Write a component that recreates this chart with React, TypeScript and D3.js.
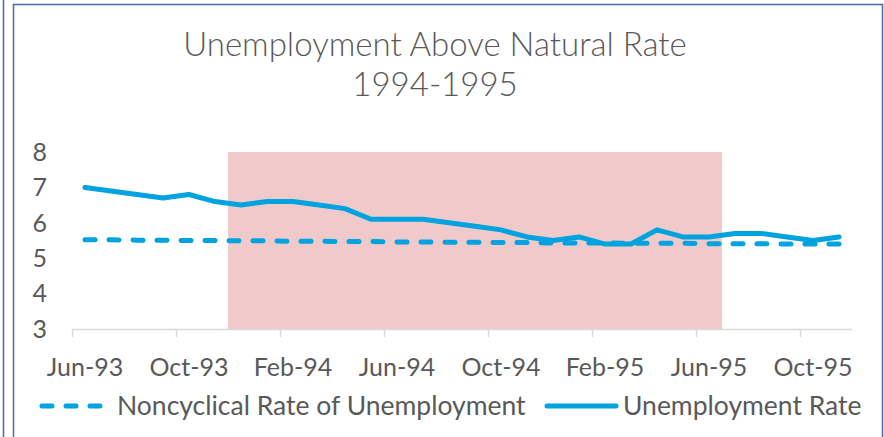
import * as d3 from "d3";
import { useEffect, useRef } from "react";

// months Jun-93 .. Nov-95
const months = [
  "1993-06", "1993-07", "1993-08", "1993-09", "1993-10", "1993-11",
  "1993-12", "1994-01", "1994-02", "1994-03", "1994-04", "1994-05",
  "1994-06", "1994-07", "1994-08", "1994-09", "1994-10", "1994-11",
  "1994-12", "1995-01", "1995-02", "1995-03", "1995-04", "1995-05",
  "1995-06", "1995-07", "1995-08", "1995-09", "1995-10", "1995-11",
];

const unemployment = [
  7.0, 6.9, 6.8, 6.7, 6.8, 6.6, 6.5, 6.6, 6.6, 6.5,
  6.4, 6.1, 6.1, 6.1, 6.0, 5.9, 5.8, 5.6, 5.5, 5.6,
  5.4, 5.4, 5.8, 5.6, 5.6, 5.7, 5.7, 5.6, 5.5, 5.6,
];

const noncyclical = [
  5.52, 5.52, 5.51, 5.51, 5.5, 5.5, 5.49, 5.49, 5.48, 5.48,
  5.47, 5.47, 5.46, 5.46, 5.45, 5.45, 5.44, 5.44, 5.43, 5.43,
  5.43, 5.42, 5.42, 5.42, 5.41, 5.41, 5.41, 5.4, 5.4, 5.4,
];

const tickMonths = ["1993-06", "1993-10", "1994-02", "1994-06", "1994-10", "1995-02", "1995-06", "1995-10"];
const shade = ["1993-12", "1995-06"]; // закрашенный период
const yTicks = [3, 4, 5, 6, 7, 8];

const titleLines = ["Unemployment Above Natural Rate", "1994-1995"];
const seriesNames = ["Noncyclical Rate of Unemployment", "Unemployment Rate"];

const W = 884;
const H = 437;
const BLUE = "#00a2df";
const GREY = "#595959";
const FONT = "Lato, 'Open Sans', sans-serif";

const fmt = d3.timeFormat("%b-%y");
const parse = d3.timeParse("%Y-%m");

export default function App() {
  const ref = useRef<SVGSVGElement>(null);

  useEffect(() => {
    document.body.style.margin = "0";
    const svg = d3.select(ref.current);
    svg.selectAll("*").remove();

    // рамка
    svg.append("rect").attr("width", W).attr("height", H).attr("fill", "#fff");
    svg.append("line").attr("x1", 3.5).attr("x2", 3.5).attr("y1", 0).attr("y2", H)
      .attr("stroke", "#4a6aa8").attr("stroke-width", 1.5);
    svg.append("path").attr("d", `M13.5,${H} V4.5 H882.5 V${H}`)
      .attr("fill", "none").attr("stroke", "#4a6aa8").attr("stroke-width", 1.5);

    const x = d3.scaleBand().domain(months).range([72, 852]).paddingInner(0).paddingOuter(0);
    const cx = (m: string) => (x(m) ?? 0) + x.bandwidth() / 2;
    const y = d3.scaleLinear().domain([3, 8]).range([329, 152]);

    // заголовок
    svg.append("g").selectAll("text").data(titleLines).join("text")
      .attr("x", 435).attr("y", (_, i) => 56 + i * 40)
      .attr("text-anchor", "middle").attr("fill", GREY)
      .style("font-family", FONT).style("font-size", "33px").style("font-weight", 300)
      .text((d) => d);

    // закрашенная полоса
    const x0 = x(shade[0]) ?? 0;
    const x1 = (x(shade[1]) ?? 0) + x.bandwidth();
    svg.append("rect").attr("x", x0).attr("y", y(8)).attr("width", x1 - x0)
      .attr("height", y(3) - y(8)).attr("fill", "#f0caca");

    // ось Y
    svg.append("g").selectAll("text").data(yTicks).join("text")
      .attr("x", 47).attr("y", (d) => y(d)).attr("dy", "0.35em")
      .attr("text-anchor", "end").attr("fill", GREY)
      .style("font-family", FONT).style("font-size", "25px")
      .text((d) => d);

    // ось X
    const ax = svg.append("g");
    ax.append("line").attr("x1", 72).attr("x2", 852).attr("y1", 329.5).attr("y2", 329.5)
      .attr("stroke", "#d9d9d9").attr("stroke-width", 1.5);
    ax.selectAll("line.tick").data(tickMonths).join("line").attr("class", "tick")
      .attr("x1", (d) => Math.round(x(d) ?? 0) + 0.5).attr("x2", (d) => Math.round(x(d) ?? 0) + 0.5)
      .attr("y1", 329).attr("y2", 337).attr("stroke", "#d9d9d9").attr("stroke-width", 1.5);
    ax.selectAll("text").data(tickMonths).join("text")
      .attr("x", (d) => cx(d)).attr("y", 376).attr("text-anchor", "middle").attr("fill", GREY)
      .style("font-family", FONT).style("font-size", "25px")
      .text((d) => fmt(parse(d) as Date));

    // линии
    const line = d3.line<number>().x((_, i) => cx(months[i])).y((d) => y(d));
    svg.append("path").attr("d", line(noncyclical)).attr("fill", "none").attr("stroke", BLUE)
      .attr("stroke-width", 5).attr("stroke-linecap", "round").attr("stroke-dasharray", "10 14");
    svg.append("path").attr("d", line(unemployment)).attr("fill", "none").attr("stroke", BLUE)
      .attr("stroke-width", 5).attr("stroke-linecap", "round").attr("stroke-linejoin", "round");

    // легенда
    const lg = svg.append("g");
    lg.append("line").attr("x1", 42).attr("x2", 104).attr("y1", 406).attr("y2", 406)
      .attr("stroke", BLUE).attr("stroke-width", 5).attr("stroke-linecap", "round")
      .attr("stroke-dasharray", "10 14");
    lg.append("text").attr("x", 117).attr("y", 406).attr("dy", "0.35em").attr("fill", GREY)
      .style("font-family", FONT).style("font-size", "26.5px").text(seriesNames[0]);
    lg.append("line").attr("x1", 547).attr("x2", 616).attr("y1", 406).attr("y2", 406)
      .attr("stroke", BLUE).attr("stroke-width", 5).attr("stroke-linecap", "round");
    lg.append("text").attr("x", 623).attr("y", 406).attr("dy", "0.35em").attr("fill", GREY)
      .style("font-family", FONT).style("font-size", "26.5px").text(seriesNames[1]);
  }, []);

  return <svg ref={ref} width={W} height={H} style={{ display: "block" }} />;
}
